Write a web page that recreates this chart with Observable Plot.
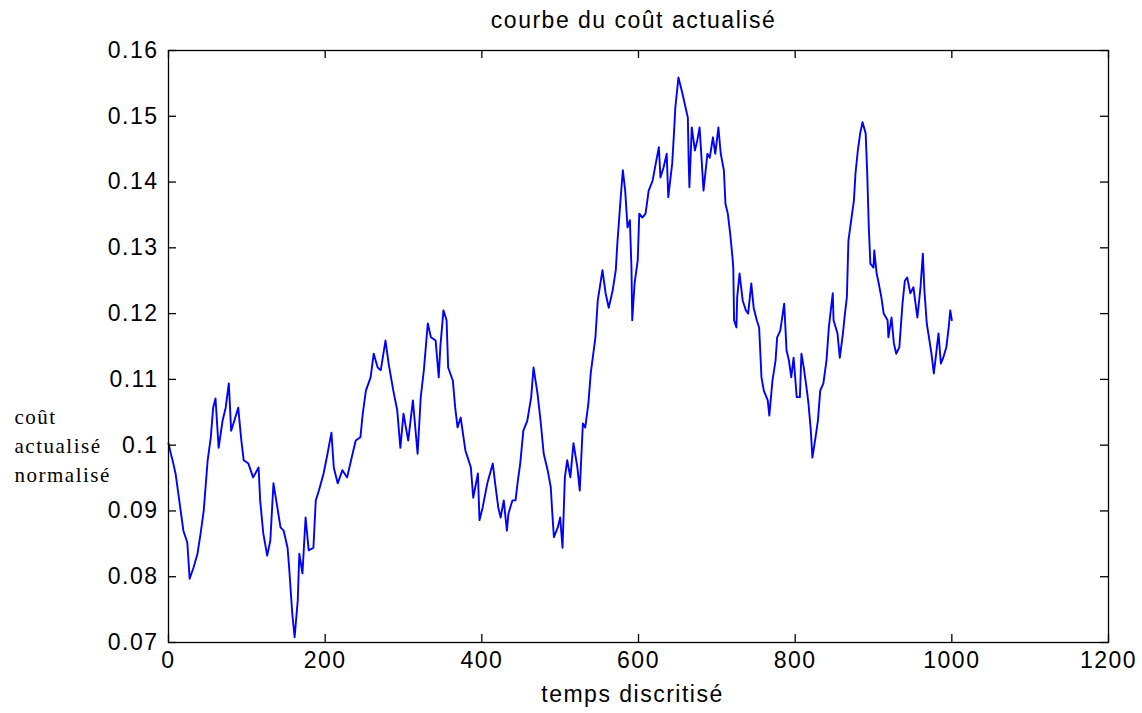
<!DOCTYPE html>
<html>
<head>
<meta charset="utf-8">
<script src="https://cdn.jsdelivr.net/npm/d3@7"></script>
<script src="https://cdn.jsdelivr.net/npm/@observablehq/plot@0.6"></script>
<style>
  html, body { margin: 0; padding: 0; background: #fff; }
</style>
</head>
<body>
<div id="chart"></div>
<script>
const titleText = "courbe du coût actualisé";
const xLabelText = "temps discritisé";
const yLabelText = "coût\nactualisé\nnormalisé";

const xTicks = [0, 200, 400, 600, 800, 1000, 1200];
const yTicks = [0.07, 0.08, 0.09, 0.10, 0.11, 0.12, 0.13, 0.14, 0.15, 0.16];

const times = [
  0, 3, 5, 9, 15, 19, 24, 27, 32, 37, 41, 45, 50, 54, 57, 60, 64, 69, 73, 77,
  80, 84, 89, 93, 96, 102, 108, 115, 117, 121, 126, 130, 134, 139, 143, 147, 152, 154, 158, 161,
  165, 167, 171, 175, 179, 185, 188, 192, 198, 203, 208, 211, 216, 222, 228, 235, 239, 245, 248, 252,
  258, 262, 267, 271, 277, 281, 287, 292, 296, 300, 306, 312, 318, 322, 326, 331, 335, 341, 345, 347,
  351, 355, 357, 363, 366, 369, 373, 379, 382, 386, 389, 395, 397, 401, 407, 414, 417, 421, 424, 428,
  432, 434, 439, 443, 446, 449, 453, 458, 463, 466, 471, 475, 479, 484, 488, 490, 492, 497, 500, 503,
  506, 509, 513, 517, 522, 525, 529, 532, 536, 539, 545, 548, 554, 558, 562, 567, 571, 573, 577, 580,
  583, 586, 589, 591, 592, 595, 599, 601, 605, 609, 613, 618, 622, 626, 628, 632, 636, 638, 643, 645,
  647, 651, 656, 659, 663, 664, 665, 668, 672, 675, 678, 682, 683, 688, 691, 695, 698, 702, 705, 709,
  711, 714, 717, 720, 721, 722, 725, 726, 729, 733, 737, 740, 744, 747, 751, 754, 757, 760, 765, 767,
  771, 775, 777, 781, 786, 789, 792, 795, 798, 802, 806, 808, 811, 815, 817, 820, 822, 826, 829, 832,
  836, 840, 843, 848, 849, 854, 857, 861, 863, 866, 868, 872, 875, 877, 880, 883, 886, 890, 892, 894,
  896, 900, 901, 904, 906, 910, 913, 918, 919, 923, 926, 929, 933, 937, 940, 943, 947, 951, 956, 960,
  963, 965, 968, 970, 974, 977, 979, 983, 986, 989, 993, 996, 998, 1000
];

const cost = [
  0.1003, 0.0987, 0.0978, 0.0957, 0.0905, 0.0870, 0.0852, 0.0797, 0.0814, 0.0835, 0.0866, 0.0901, 0.0977, 0.1012, 0.1057, 0.1071, 0.0996, 0.1037, 0.1057, 0.1094,
  0.1022, 0.1037, 0.1057, 0.1007, 0.0977, 0.0972, 0.0951, 0.0966, 0.0916, 0.0866, 0.0832, 0.0855, 0.0942, 0.0905, 0.0875, 0.0870, 0.0844, 0.0814, 0.0744, 0.0708,
  0.0764, 0.0835, 0.0805, 0.0890, 0.0840, 0.0844, 0.0916, 0.0931, 0.0957, 0.0987, 0.1019, 0.0966, 0.0942, 0.0962, 0.0951, 0.0987, 0.1007, 0.1012, 0.1048, 0.1083,
  0.1103, 0.1139, 0.1118, 0.1114, 0.1159, 0.1124, 0.1083, 0.1053, 0.0996, 0.1048, 0.1007, 0.1068, 0.0987, 0.1073, 0.1114, 0.1185, 0.1164, 0.1159, 0.1103, 0.1149,
  0.1205, 0.1190, 0.1118, 0.1098, 0.1057, 0.1027, 0.1042, 0.0992, 0.0981, 0.0966, 0.0920, 0.0957, 0.0886, 0.0905, 0.0942, 0.0972, 0.0942, 0.0905, 0.0890, 0.0916,
  0.0870, 0.0896, 0.0916, 0.0916, 0.0946, 0.0972, 0.1022, 0.1037, 0.1073, 0.1118, 0.1079, 0.1037, 0.0987, 0.0962, 0.0936, 0.0896, 0.0860, 0.0875, 0.0890, 0.0844,
  0.0951, 0.0977, 0.0951, 0.1003, 0.0966, 0.0931, 0.1033, 0.1027, 0.1063, 0.1109, 0.1164, 0.1220, 0.1266, 0.1231, 0.1209, 0.1235, 0.1266, 0.1307, 0.1372, 0.1418,
  0.1387, 0.1331, 0.1342, 0.1270, 0.1190, 0.1246, 0.1281, 0.1352, 0.1346, 0.1352, 0.1387, 0.1402, 0.1428, 0.1453, 0.1407, 0.1422, 0.1443, 0.1377, 0.1428, 0.1468,
  0.1513, 0.1559, 0.1535, 0.1519, 0.1498, 0.1433, 0.1392, 0.1483, 0.1448, 0.1463, 0.1483, 0.1407, 0.1387, 0.1443, 0.1437, 0.1468, 0.1443, 0.1483, 0.1443, 0.1418,
  0.1367, 0.1352, 0.1322, 0.1285, 0.1270, 0.1190, 0.1179, 0.1225, 0.1261, 0.1220, 0.1205, 0.1200, 0.1246, 0.1209, 0.1190, 0.1179, 0.1103, 0.1083, 0.1068, 0.1045,
  0.1098, 0.1129, 0.1164, 0.1174, 0.1215, 0.1144, 0.1129, 0.1103, 0.1133, 0.1073, 0.1073, 0.1139, 0.1118, 0.1083, 0.1063, 0.1022, 0.0981, 0.1012, 0.1037, 0.1083,
  0.1094, 0.1129, 0.1179, 0.1231, 0.1190, 0.1170, 0.1133, 0.1170, 0.1194, 0.1225, 0.1311, 0.1346, 0.1372, 0.1413, 0.1448, 0.1474, 0.1491, 0.1474, 0.1413, 0.1331,
  0.1276, 0.1270, 0.1296, 0.1261, 0.1250, 0.1225, 0.1200, 0.1190, 0.1164, 0.1194, 0.1155, 0.1139, 0.1149, 0.1215, 0.1250, 0.1255, 0.1231, 0.1240, 0.1194, 0.1240,
  0.1291, 0.1235, 0.1185, 0.1170, 0.1139, 0.1109, 0.1129, 0.1170, 0.1124, 0.1133, 0.1149, 0.1179, 0.1205, 0.1190
];

const W = 1142, H = 713;
const mL = 168, mR = 34, mT = 50, mB = 71;
const frameW = W - mL - mR;   // 940
const frameH = H - mT - mB;   // 592
const tickLen = 8;

const chart = Plot.plot({
  width: W,
  height: H,
  marginLeft: mL,
  marginRight: mR,
  marginTop: mT,
  marginBottom: mB,
  style: {
    fontFamily: "'Liberation Sans', Arial, sans-serif",
    fontSize: "23px",
    letterSpacing: "1.5px",
    color: "black",
    background: "white"
  },
  x: {domain: [0, 1200]},
  y: {domain: [0.07, 0.16]},
  marks: [
    Plot.line(cost, {x: times, y: cost, stroke: "#0000ff", strokeWidth: 1.9}),
    Plot.frame({stroke: "black", strokeWidth: 1.3}),
    Plot.tickX(xTicks, {x: d => d, insetTop: frameH - tickLen, stroke: "black", strokeWidth: 1.3}),
    Plot.tickX(xTicks, {x: d => d, insetBottom: frameH - tickLen, stroke: "black", strokeWidth: 1.3}),
    Plot.tickY(yTicks, {y: d => d, insetRight: frameW - tickLen, stroke: "black", strokeWidth: 1.3}),
    Plot.tickY(yTicks, {y: d => d, insetLeft: frameW - tickLen, stroke: "black", strokeWidth: 1.3}),
    Plot.axisX(xTicks, {tickSize: 0, tickPadding: 9, label: null, fill: "black", fontSize: 23,
      tickFormat: d => String(d)}),
    Plot.axisY(yTicks, {tickSize: 0, tickPadding: 10, label: null, fill: "black", fontSize: 23,
      tickFormat: d => String(+d.toFixed(2))}),
    Plot.text([titleText], {text: d => d, frameAnchor: "top", dy: -30, dx: -5, lineAnchor: "middle",
      fill: "black", fontSize: 23}),
    Plot.text([xLabelText], {text: d => d, frameAnchor: "bottom", dy: 52, dx: -6, lineAnchor: "middle",
      fill: "black", fontSize: 23}),
    Plot.text([yLabelText], {text: d => d, frameAnchor: "left", dx: -(mL - 14), dy: 97,
      textAnchor: "start", lineAnchor: "middle", lineHeight: 1.4,
      fontFamily: "'Liberation Serif', 'Times New Roman', serif", fontSize: 21, fill: "black"})
  ]
});

document.getElementById("chart").appendChild(chart);
</script>
</body>
</html>
